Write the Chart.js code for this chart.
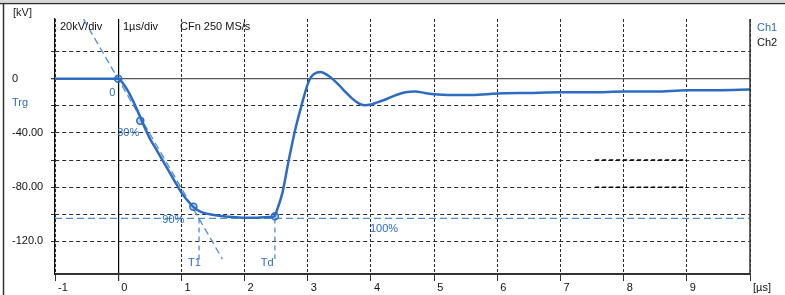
<!DOCTYPE html>
<html><head><meta charset="utf-8">
<script src="https://cdn.jsdelivr.net/npm/chart.js@4"></script>
<style>html,body{margin:0;padding:0;background:#fff}canvas{display:block}</style>
</head><body>
<canvas id="c" width="785" height="295"></canvas>
<script>
// ---- data ----
const timeUs = [-1, -0.5, 0, 0.1, 0.2, 0.3, 0.4, 0.5, 0.6, 0.7, 0.8, 0.9, 1.0, 1.1, 1.2, 1.3, 1.4, 1.6, 1.8, 2.0, 2.2, 2.4, 2.47, 2.52, 2.6, 2.7, 2.8, 2.9, 3.0, 3.05, 3.1, 3.2, 3.3, 3.4, 3.5, 3.6, 3.7, 3.8, 3.9, 4.0, 4.1, 4.25, 4.4, 4.55, 4.7, 4.85, 5.0, 5.3, 5.6, 6.0, 6.5, 7.0, 7.5, 8.0, 8.5, 9.0, 9.5, 10.0];
const ch1kV  = [0, 0, 0, -5, -13, -23, -34, -44, -52, -60, -68, -76, -84, -90, -95, -98, -99.5, -101, -102, -102.5, -102.5, -102, -101.5, -96, -84, -60, -38, -20, -4, 1, 3.5, 5, 3, -0.5, -5, -10, -14.5, -18, -19.5, -19, -17.5, -15, -12, -10, -9.5, -10.5, -11.5, -12, -12, -11, -10.5, -10, -10, -9.5, -9.5, -8.5, -8.5, -8];
const frontLineT = [-0.55, 1.65];
const frontLineKV = [44, -133];
const levelT = [-1, 10];
const levelKV = [-103, -103];
const t1LineT = [1.28, 1.28];
const t1LineKV = [-103, -136];
const tdLineT = [2.48, 2.48];
const tdLineKV = [-103, -133];
const markerT = [0, 0.35, 1.19, 2.48];
const markerKV = [0, -31, -94.5, -101.5];
const cursorBoxT = [7.55, 9];
const cursorBoxKV = [-60, -80];
const yTickLabels = {'0': '0', '-40': '-40.00', '-80': '-80.00', '-120': '-120.0'};
const xTickLabels = ['-1', '0', '1', '2', '3', '4', '5', '6', '7', '8', '9', '[µs]'];

const BLUE = '#2d6cc0';
const LBLUE = '#4b8ed6';
const FONT = '11px "Liberation Sans", Arial, sans-serif';

const pts = (xs, ys) => xs.map((x, i) => ({x, y: ys[i]}));

const texts = {
  id: 'texts',
  beforeDraw(chart) {
    const c = chart.ctx;
    c.save();
    c.fillStyle = '#fff';
    c.fillRect(0, 0, chart.width, chart.height);
    c.fillStyle = '#d8d8d8';
    c.fillRect(0, 0, chart.width, 2);
    c.strokeStyle = '#333';
    c.lineWidth = 1.5;
    c.beginPath();
    c.moveTo(0, 3.5); c.lineTo(chart.width, 3.5);
    c.moveTo(3.5, 3.5); c.lineTo(3.5, chart.height);
    c.stroke();
    c.restore();
  },
  afterDraw(chart) {
    const c = chart.ctx, a = chart.chartArea;
    const xs = chart.scales.x, ys = chart.scales.y;
    c.save();
    c.strokeStyle = '#333';
    c.lineWidth = 1.5;
    c.beginPath();
    c.moveTo(a.right, a.top); c.lineTo(a.right, a.bottom + 1);
    c.stroke();
    c.font = FONT;
    c.textBaseline = 'middle';
    c.textAlign = 'left';
    const put = (s, x, y, col) => { c.fillStyle = col; c.fillText(s, x, y); };
    put('[kV]', 13, 13, '#222');
    put('Trg', 12, 103, BLUE);
    put('20kV/div', 60, 27, '#111');
    put('1µs/div', 123, 27, '#111');
    put('CFn 250 MS/s', 180, 27, '#111');
    put('Ch1', 757, 28, BLUE);
    put('Ch2', 757, 43, '#111');
    const X = v => xs.getPixelForValue(v), Y = v => ys.getPixelForValue(v);
    put('0', X(0) - 9, Y(0) + 14, BLUE);
    put('30%', X(0) - 1, Y(-40), BLUE);
    put('90%', X(1) - 19, Y(-100) + 6, BLUE);
    put('100%', X(4) - 1, Y(-110) + 1, BLUE);
    put('T1', X(1.28) - 11, Y(-136), BLUE);
    put('Td', X(2.48) - 14, Y(-136), BLUE);
    c.restore();
  }
};

const isZero = ctx => ctx.tick && ctx.tick.value === 0;

new Chart(document.getElementById('c'), {
  type: 'line',
  data: {
    datasets: [
      { label: 'Ch1', data: pts(timeUs, ch1kV), borderColor: BLUE, borderWidth: 2.5, pointRadius: 0, cubicInterpolationMode: 'monotone', order: 0 },
      { label: 'front', data: pts(frontLineT, frontLineKV), borderColor: LBLUE, borderWidth: 1.3, borderDash: [7, 4], pointRadius: 0, order: 1 },
      { label: '100%', data: pts(levelT, levelKV), borderColor: LBLUE, borderWidth: 1.3, borderDash: [7, 4], pointRadius: 0, order: 1 },
      { label: 'T1', data: pts(t1LineT, t1LineKV), borderColor: LBLUE, borderWidth: 1.3, borderDash: [5, 4], pointRadius: 0, order: 1 },
      { label: 'Td', data: pts(tdLineT, tdLineKV), borderColor: LBLUE, borderWidth: 1.3, borderDash: [5, 4], pointRadius: 0, order: 1 },
      { label: 'markers', data: pts(markerT, markerKV), showLine: false, pointRadius: 3.5, pointBorderWidth: 1.5, pointBorderColor: BLUE, pointBackgroundColor: 'rgba(75,142,214,0.35)', order: 0 },
      { label: 'box1', data: pts(cursorBoxT, [cursorBoxKV[0], cursorBoxKV[0]]), borderColor: '#000', borderWidth: 1.4, borderDash: [4, 3], pointRadius: 0, order: 2 },
      { label: 'box2', data: pts(cursorBoxT, [cursorBoxKV[1], cursorBoxKV[1]]), borderColor: '#000', borderWidth: 1.4, borderDash: [4, 3], pointRadius: 0, order: 2 }
    ]
  },
  options: {
    responsive: false,
    animation: false,
    layout: { padding: { left: 12, top: 19, right: 35, bottom: 0 } },
    plugins: { legend: { display: false }, tooltip: { enabled: false } },
    scales: {
      x: {
        type: 'linear', min: -1, max: 10,
        ticks: { stepSize: 1, align: 'start', padding: 0, maxRotation: 0, autoSkip: false, color: '#111', font: { family: '"Liberation Sans", Arial, sans-serif', size: 11 },
          callback: (v, i) => ' ' + xTickLabels[i] },
        grid: {
          color: ctx => isZero(ctx) ? '#000' : '#2a2a2a',
          lineWidth: ctx => isZero(ctx) ? 1.2 : 1,
          tickLength: 7, tickColor: '#333', drawOnChartArea: true
        },
        border: { display: true, color: '#333', width: 2,
          dash: ctx => isZero(ctx) ? [] : [3, 2] },
        afterFit(scale) { scale.height = 21; scale.paddingLeft = 0; scale.paddingRight = 0; }
      },
      y: {
        type: 'linear', min: -144, max: 44,
        afterBuildTicks(scale) { scale.ticks = scale.ticks.filter(t => Math.abs(t.value % 20) < 1e-6); },
        ticks: { stepSize: 20, crossAlign: 'far', padding: 2, color: '#111', autoSkip: false, font: { family: '"Liberation Sans", Arial, sans-serif', size: 11 },
          callback: v => (yTickLabels[String(v)] !== undefined ? yTickLabels[String(v)] : '') },
        grid: {
          color: ctx => isZero(ctx) ? '#555' : '#2a2a2a',
          lineWidth: ctx => isZero(ctx) ? 1.3 : 1,
          tickLength: 4, tickColor: '#333'
        },
        border: { display: true, color: '#111', width: 1.2,
          dash: ctx => isZero(ctx) ? [] : [4, 3] },
        afterFit(scale) { scale.width = 43; scale.paddingTop = 0; scale.paddingBottom = 0; }
      }
    }
  },
  plugins: [texts]
});
</script>
</body></html>
